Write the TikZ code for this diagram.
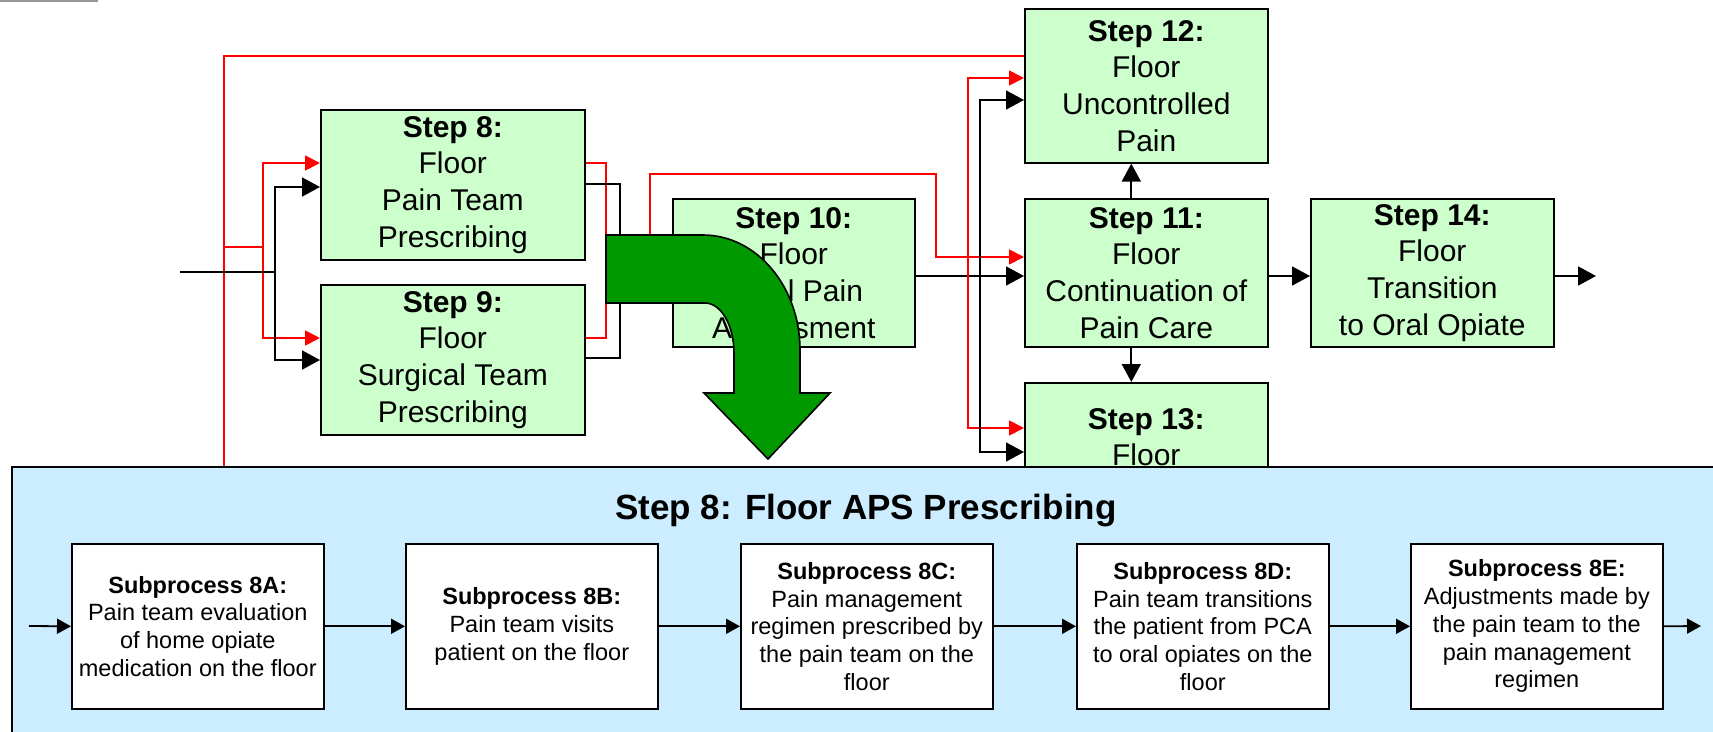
\documentclass[tikz,border=0pt]{standalone}
\usepackage{fontspec}
\setmainfont{Liberation Sans}
\usetikzlibrary{arrows.meta,calc}
\definecolor{gfill}{HTML}{CCFFCC}
\definecolor{pfill}{HTML}{CCECFF}
\definecolor{garrow}{HTML}{009900}
\definecolor{rline}{HTML}{FF0000}
\begin{document}
\begin{tikzpicture}[x=1pt,y=-1pt,
 gbox/.style={draw=black,line width=1.6pt,fill=gfill,anchor=north west,inner sep=0pt,align=center,font=\fontsize{30}{36.7}\selectfont},
 sbox/.style={draw=black,line width=1.6pt,fill=white,anchor=north west,inner sep=0pt,align=center,minimum width=252pt,minimum height=165pt,font=\fontsize{23.5}{27.7}\selectfont},
 bk/.style={draw=black,line width=1.8pt},
 rd/.style={draw=rline,line width=1.8pt},
 bka/.style={-{Triangle[length=18pt,width=19pt]}},
 rda/.style={-{Triangle[length=15pt,width=15pt]}},
 sa/.style={draw=black,line width=1.8pt,-{Triangle[length=14pt,width=15pt]}},
]
\useasboundingbox (0,0) rectangle (1713,731);
\clip (0,0) rectangle (1713,731);
\fill[white] (0,0) rectangle (1713,731);
\fill[gray!80] (0,0) rectangle (98,2);

% coordinates
\coordinate (in0) at (180,272);
\coordinate (jb) at (275,272);
\coordinate (rbot) at (224,470);
\coordinate (rj) at (224,247);
\coordinate (rj2) at (263,247);
\coordinate (ro) at (606,250);
\coordinate (bo) at (620,272);
\coordinate (ru1) at (650,250);
\coordinate (ru2) at (650,174);
\coordinate (ru3) at (936,174);
\coordinate (rv) at (968,257);
\coordinate (bv) at (980,276);
\coordinate (out14) at (1596,276);

% step boxes
\node[gbox,minimum width=264pt,minimum height=150pt] (s8) at (320,109) {\textbf{Step 8:}\\Floor\\Pain Team\\Prescribing};
\node[gbox,minimum width=264pt,minimum height=150pt] (s9) at (320,284) {\textbf{Step 9:}\\Floor\\Surgical Team\\Prescribing};
\node[gbox,minimum width=242pt,minimum height=148pt] (s10) at (672,198) {\textbf{Step 10:}\\Floor\\Initial Pain\\Assessment};
\node[gbox,minimum width=243pt,minimum height=148pt] (s11) at (1024,198) {\textbf{Step 11:}\\Floor\\Continuation of\\Pain Care};
\node[gbox,minimum width=243pt,minimum height=154pt] (s12) at (1024,8) {\textbf{Step 12:}\\Floor\\Uncontrolled\\Pain};
\node[gbox,minimum width=243pt,minimum height=156pt] (s13) at (1024,382) {\textbf{Step 13:}\\Floor\\\strut};
\node[gbox,minimum width=243pt,minimum height=148pt] (s14) at (1310,198) {\textbf{Step 14:}\\Floor\\Transition\\to Oral Opiate};

% connectors
\draw[rd] ([yshift=-48pt]s12.north west) -| (rbot);
\draw[rd] (rj) -- (rj2);
\draw[rd,rda] (rj2) |- ([yshift=-54pt]s8.north west);
\draw[rd,rda] (rj2) |- ([yshift=-54pt]s9.north west);
\draw[bk] (in0) -- (jb);
\draw[bk,bka] (jb) |- ([yshift=-78pt]s8.north west);
\draw[bk,bka] (jb) |- ([yshift=-76pt]s9.north west);
\draw[rd] ([yshift=-54pt]s8.north east) -| (ro);
\draw[rd] ([yshift=-54pt]s9.north east) -| (ro);
\draw[bk] ([yshift=-75pt]s8.north east) -| (bo);
\draw[bk] ([yshift=-74pt]s9.north east) -| (bo);
\draw[bk,bka] (bo) -- (s10.west);
\draw[rd,rda] (ro) -- (ru1) -- (ru2) -- (ru3) |- ([yshift=-59pt]s11.north west);
\draw[bk,bka] ([yshift=-78pt]s10.north east) -- ([yshift=-78pt]s11.north west);
\draw[rd,rda] (rv) |- ([yshift=-70pt]s12.north west);
\draw[rd,rda] (rv) |- ([yshift=-46pt]s13.north west);
\draw[bk,bka] (bv) |- ([yshift=-92pt]s12.north west);
\draw[bk,bka] (bv) |- ([yshift=-70pt]s13.north west);
\draw[bk,bka] ([xshift=-15pt]s11.north) -- ([xshift=-15pt]s12.south);
\draw[bk,bka] ([xshift=-15pt]s11.south) -- ([xshift=-15pt]s13.north);
\draw[bk,bka] ([yshift=-78pt]s11.north east) -- ([yshift=-78pt]s14.north west);
\draw[bk,bka] ([yshift=-78pt]s14.north east) -- (out14);

% big green bent arrow
\draw[fill=garrow,line width=1.6pt,line join=miter] (606,235) -- (703,235) .. controls (756.5,235) and (800,286.5) .. (800,350) -- (800,393) -- (830,393) -- (768,459) -- (704,393) -- (734,393) -- (734,353) .. controls (734,325.4) and (721,303) .. (705,303) -- (606,303) -- cycle;

% detail panel
\path[draw=black,line width=1.6pt,fill=pfill] (12,467) rectangle (1730,750);
\node[font=\fontsize{35}{42}\selectfont\bfseries] (title) at (866,511) {Step 8: Floor APS Prescribing};

\node[sbox] (p1) at (71,543) {\textbf{Subprocess 8A:}\\Pain team evaluation\\of home opiate\\medication on the floor};
\node[sbox] (p2) at (405,543) {\textbf{Subprocess 8B:}\\Pain team visits\\patient on the floor};
\node[sbox] (p3) at (740,543) {\textbf{Subprocess 8C:}\\Pain management\\regimen prescribed by\\the pain team on the\\floor};
\node[sbox] (p4) at (1076,543) {\textbf{Subprocess 8D:}\\Pain team transitions\\the patient from PCA\\to oral opiates on the\\floor};
\node[sbox] (p5) at (1410,543) {\textbf{Subprocess 8E:}\\Adjustments made by\\the pain team to the\\pain management\\regimen};
\coordinate (pin) at (29,626);
\coordinate (pout) at (1701,626);
\draw[sa] (pin) -- (p1.west);
\draw[sa] (p1.east) -- (p2.west);
\draw[sa] (p2.east) -- (p3.west);
\draw[sa] (p3.east) -- (p4.west);
\draw[sa] (p4.east) -- (p5.west);
\draw[sa] (p5.east) -- (pout);
\end{tikzpicture}
\end{document}
